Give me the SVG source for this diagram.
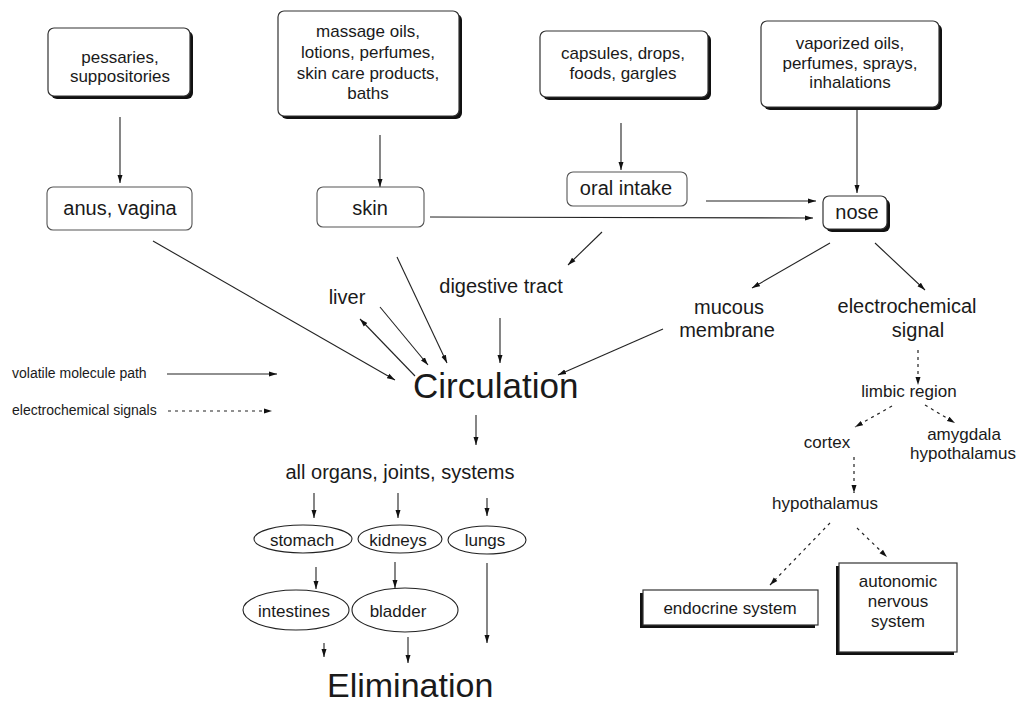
<svg xmlns="http://www.w3.org/2000/svg" width="1019" height="702" viewBox="0 0 1019 702">
<defs>
<style>
text{font-family:"Liberation Sans",Arial,Helvetica,sans-serif;fill:#1a1a1a;}
.t17{font-size:17px;text-anchor:middle;}
.t20{font-size:20px;text-anchor:middle;}
.t14{font-size:14px;}
.big{font-size:35px;}
.box{fill:#fff;stroke:#333;stroke-width:1.2;}
.thin{fill:#fff;stroke:#555;stroke-width:1.1;}
.shadow{fill:#111;}
.ell{fill:#fff;stroke:#222;stroke-width:1.1;}
.c{stroke:#222;stroke-width:1.1;fill:none;marker-end:url(#ah);}
.d{stroke:#222;stroke-width:1.2;fill:none;stroke-dasharray:3 4;marker-end:url(#ah);}
</style>
<marker id="ah" markerWidth="9" markerHeight="6" refX="8" refY="3" orient="auto" markerUnits="userSpaceOnUse">
<path d="M0,0.5 L8,3 L0,5.5 z" fill="#111"/>
</marker>
</defs>
<rect width="1019" height="702" fill="#fff"/>

<g id="connectors">
<line class="c" x1="120" y1="117" x2="120" y2="183"/>
<line class="c" x1="380" y1="135" x2="380" y2="187"/>
<line class="c" x1="621" y1="123" x2="621" y2="170"/>
<line class="c" x1="857" y1="110" x2="857" y2="193"/>
<line class="c" x1="430" y1="217" x2="813" y2="218"/>
<line class="c" x1="706" y1="201" x2="816" y2="201"/>
<line class="c" x1="602" y1="232" x2="568" y2="265"/>
<line class="c" x1="830" y1="243" x2="752" y2="288"/>
<line class="c" x1="875" y1="243" x2="925" y2="290"/>
<line class="c" x1="153" y1="241" x2="395" y2="380"/>
<line class="c" x1="415" y1="376" x2="360" y2="319"/>
<line class="c" x1="380" y1="307" x2="428" y2="365"/>
<line class="c" x1="397" y1="257" x2="447" y2="363"/>
<line class="c" x1="500" y1="318" x2="500" y2="363"/>
<line class="c" x1="663" y1="329" x2="558" y2="375"/>
<line class="c" x1="476" y1="415" x2="476" y2="445"/>
<line class="c" x1="314" y1="493" x2="314" y2="518"/>
<line class="c" x1="398" y1="493" x2="398" y2="518"/>
<line class="c" x1="487" y1="498" x2="487" y2="516"/>
<line class="c" x1="316" y1="567" x2="316" y2="589"/>
<line class="c" x1="395" y1="562" x2="395" y2="588"/>
<line class="c" x1="487" y1="563" x2="487" y2="643"/>
<line class="c" x1="324" y1="643" x2="324" y2="657"/>
<line class="c" x1="408" y1="637" x2="408" y2="663"/>
<line class="c" x1="167" y1="374" x2="277" y2="374"/>
<line class="d" x1="918" y1="350" x2="918" y2="385"/>
<line class="d" x1="892" y1="406" x2="855" y2="427"/>
<line class="d" x1="925" y1="405" x2="955" y2="423"/>
<line class="d" x1="854" y1="457" x2="854" y2="493"/>
<line class="d" x1="830" y1="523" x2="770" y2="585"/>
<line class="d" x1="857" y1="528" x2="887" y2="557"/>
<line class="d" x1="168" y1="411" x2="272" y2="411"/>
</g>

<g id="n-pessaries">
<rect class="shadow" x="51" y="31" width="142" height="68" rx="6"/>
<rect class="box" x="48" y="28" width="142" height="68" rx="6"/>
<text class="t17" x="120" y="63">pessaries,</text>
<text class="t17" x="120" y="82">suppositories</text>
</g>
<g id="n-massage">
<rect class="shadow" x="281" y="14" width="181" height="105" rx="6"/>
<rect class="box" x="278" y="11" width="181" height="105" rx="6"/>
<text class="t17" x="368" y="37">massage oils,</text>
<text class="t17" x="368" y="58">lotions, perfumes,</text>
<text class="t17" x="368" y="79">skin care products,</text>
<text class="t17" x="368" y="99">baths</text>
</g>
<g id="n-capsules">
<rect class="shadow" x="543" y="34" width="168" height="66" rx="6"/>
<rect class="box" x="540" y="31" width="168" height="66" rx="6"/>
<text class="t17" x="623" y="59">capsules, drops,</text>
<text class="t17" x="623" y="79">foods, gargles</text>
</g>
<g id="n-vaporized">
<rect class="shadow" x="764" y="24" width="178" height="86" rx="6"/>
<rect class="box" x="761" y="21" width="178" height="86" rx="6"/>
<text class="t17" x="850" y="49">vaporized oils,</text>
<text class="t17" x="850" y="69">perfumes, sprays,</text>
<text class="t17" x="850" y="88">inhalations</text>
</g>
<g id="n-anus">
<rect class="thin" x="47" y="187" width="145" height="43" rx="6"/>
<text class="t20" x="120" y="215">anus, vagina</text>
</g>
<g id="n-skin">
<rect class="thin" x="317" y="187" width="107" height="40" rx="6"/>
<text class="t20" x="370" y="215">skin</text>
</g>
<g id="n-oral">
<rect class="thin" x="567" y="172" width="120" height="34" rx="6"/>
<text class="t20" x="626" y="195">oral intake</text>
</g>
<g id="n-nose">
<rect class="shadow" x="826" y="199" width="64" height="33" rx="6"/>
<rect class="box" x="823" y="196" width="64" height="33" rx="6"/>
<text class="t20" x="857" y="219">nose</text>
</g>
<g id="n-liver"><text class="t20" x="347" y="304">liver</text></g>
<g id="n-digestive"><text class="t20" x="501" y="293">digestive tract</text></g>
<g id="n-mucous">
<text class="t20" x="729" y="314">mucous</text>
<text class="t20" x="727" y="337">membrane</text>
</g>
<g id="n-electro">
<text class="t20" x="907" y="313">electrochemical</text>
<text class="t20" x="918" y="337">signal</text>
</g>
<g id="n-circulation"><text class="big" x="413" y="398">Circulation</text></g>
<g id="n-organs"><text class="t20" x="400" y="479">all organs, joints, systems</text></g>
<g id="n-stomach">
<ellipse class="ell" cx="303" cy="539" rx="49" ry="14"/>
<text class="t17" x="302" y="546">stomach</text>
</g>
<g id="n-kidneys">
<ellipse class="ell" cx="400" cy="539" rx="42" ry="14"/>
<text class="t17" x="398" y="546">kidneys</text>
</g>
<g id="n-lungs">
<ellipse class="ell" cx="487" cy="540" rx="39" ry="14"/>
<text class="t17" x="485" y="546">lungs</text>
</g>
<g id="n-intestines">
<ellipse class="ell" cx="296" cy="610" rx="53" ry="20"/>
<text class="t17" x="294" y="617">intestines</text>
</g>
<g id="n-bladder">
<ellipse class="ell" cx="405" cy="610" rx="53" ry="22"/>
<text class="t17" x="398" y="617">bladder</text>
</g>
<g id="n-elimination"><text class="big" style="font-size:34px" x="327" y="697">Elimination</text></g>
<g id="legend">
<text class="t14" x="12" y="378">volatile molecule path</text>
<text class="t14" x="12" y="415">electrochemical signals</text>
</g>
<g id="n-limbic"><text class="t17" x="909" y="397">limbic region</text></g>
<g id="n-cortex"><text class="t17" x="827" y="448">cortex</text></g>
<g id="n-amygdala">
<text class="t17" x="964" y="440">amygdala</text>
<text class="t17" x="963" y="459">hypothalamus</text>
</g>
<g id="n-hypothalamus"><text class="t17" x="825" y="509">hypothalamus</text></g>
<g id="n-endocrine">
<rect class="shadow" x="640" y="593" width="175" height="35"/>
<rect class="box" x="643" y="590" width="175" height="35"/>
<text class="t17" x="730" y="614">endocrine system</text>
</g>
<g id="n-autonomic">
<rect class="shadow" x="836" y="566" width="118" height="89"/>
<rect class="box" x="839" y="563" width="118" height="89"/>
<text class="t17" x="898" y="587">autonomic</text>
<text class="t17" x="898" y="607">nervous</text>
<text class="t17" x="898" y="627">system</text>
</g>
</svg>
